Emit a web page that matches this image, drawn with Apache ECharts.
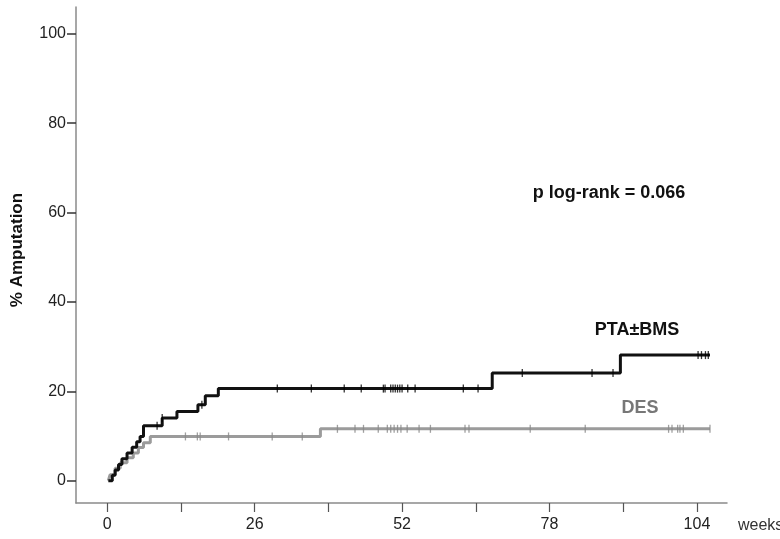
<!DOCTYPE html>
<html>
<head>
<meta charset="utf-8">
<script src="https://cdn.jsdelivr.net/npm/echarts@6/dist/echarts.min.js"></script>
<style>html,body{margin:0;padding:0;background:#fff}#c{width:780px;height:539px}</style>
</head>
<body>
<div id="c"></div>
<script>
// Kaplan-Meier cumulative amputation (%), step changes: time (weeks) -> value
const ptaTimes  = [0.2, 0.9, 1.4, 2.0, 2.6, 3.5, 4.4, 5.2, 5.8, 6.4, 9.7, 12.3, 16.0, 17.3, 19.6, 67.9, 90.5, 106.3];
const ptaValues = [0, 1.2, 2.4, 3.6, 4.9, 6.2, 7.5, 8.7, 9.9, 12.3, 14.0, 15.5, 17.0, 19.0, 20.6, 24.1, 28.1, 28.1];
const desTimes  = [0.2, 0.5, 1.4, 2.3, 3.5, 4.6, 5.5, 6.4, 7.6, 37.6, 106.3];
const desValues = [0, 1.3, 2.8, 4.0, 5.1, 6.2, 7.4, 8.5, 9.9, 11.6, 11.6];
// censored observations (weeks)
const ptaCensor = [8.8, 9.7, 16.7, 30.0, 36.0, 41.8, 44.8, 48.7, 49.0, 50.0, 50.4, 50.8, 51.2, 51.6, 52.0, 53.0, 54.3, 62.8, 65.4, 73.2, 85.5, 89.2, 104.2, 104.8, 105.5, 106.0];
const desCensor = [13.8, 15.9, 16.4, 21.4, 29.1, 34.4, 40.6, 43.7, 45.2, 47.8, 49.4, 50.0, 50.6, 51.2, 51.8, 52.9, 55.0, 57.0, 63.1, 63.8, 74.6, 84.3, 99.0, 99.6, 100.6, 101.0, 101.6, 106.3];
const xTicks = [0, 13, 26, 39, 52, 65, 78, 91, 104];
const xLabels = [0, 26, 52, 78, 104];
const yLabels = [0, 20, 40, 60, 80, 100];
const seriesNames = ['PTA±BMS', 'DES'];
const pText = 'p log-rank = 0.066';

function stepValue(times, values, t) {
  let v = values[0];
  for (let i = 0; i < times.length; i++) if (times[i] <= t) v = values[i];
  return v;
}
const zip = (a, b) => a.map((t, i) => [t, b[i]]);
const censorPts = (c, times, values) => c.map(t => [t, stepValue(times, values, t)]);

const BLACK = '#111111', GRAY = '#9b9b9b';
const chart = echarts.init(document.getElementById('c'));
chart.setOption({
  animation: false,
  backgroundColor: '#fff',
  grid: { left: 76, right: 53, top: 7, bottom: 36, outerBoundsMode: 'none', containLabel: false },
  xAxis: {
    type: 'value', min: -5.5, max: 109.3,
    name: 'weeks', nameLocation: 'end', nameGap: 11,
    nameTextStyle: { fontSize: 16, color: '#333', fontFamily: 'Liberation Sans', verticalAlign: 'top', padding: [15, 0, 0, 0] },
    splitLine: { show: false },
    axisLine: { onZero: false, lineStyle: { color: '#8a8a8a', width: 1.5 } },
    axisTick: { customValues: xTicks, length: 9, lineStyle: { color: '#555', width: 1.2 } },
    axisLabel: { customValues: xLabels, margin: 14, fontSize: 16, color: '#222', fontFamily: 'Liberation Sans' }
  },
  yAxis: {
    type: 'value', min: -5, max: 106,
    name: '% Amputation', nameLocation: 'middle', nameGap: 50,
    nameTextStyle: { fontSize: 17, fontWeight: 'bold', color: '#111', fontFamily: 'Liberation Sans', padding: [0, 0, 0, 10] },
    splitLine: { show: false },
    axisLine: { onZero: false, lineStyle: { color: '#8a8a8a', width: 1.5 } },
    axisTick: { customValues: yLabels, length: 9, lineStyle: { color: '#333', width: 1.5 } },
    axisLabel: { customValues: yLabels, margin: 10, fontSize: 16, color: '#222', fontFamily: 'Liberation Sans' }
  },
  series: [
    { name: seriesNames[1], type: 'line', step: 'end', showSymbol: false, data: zip(desTimes, desValues),
      lineStyle: { color: GRAY, width: 3 }, z: 2 },
    { name: seriesNames[1] + ' censored', type: 'scatter', data: censorPts(desCensor, desTimes, desValues),
      symbol: 'rect', symbolSize: [1.3, 8], itemStyle: { color: '#888' }, z: 3 },
    { name: seriesNames[0], type: 'line', step: 'end', showSymbol: false, data: zip(ptaTimes, ptaValues),
      lineStyle: { color: BLACK, width: 3 }, z: 4 },
    { name: seriesNames[0] + ' censored', type: 'scatter', data: censorPts(ptaCensor, ptaTimes, ptaValues),
      symbol: 'rect', symbolSize: [1.3, 8], itemStyle: { color: '#000' }, z: 5 }
  ],
  graphic: [
    { type: 'text', x: 609, y: 193, style: { text: pText, textAlign: 'center', textVerticalAlign: 'middle',
      font: 'bold 18px "Liberation Sans"', fill: '#111' } },
    { type: 'text', x: 637, y: 330, style: { text: seriesNames[0], textAlign: 'center', textVerticalAlign: 'middle',
      font: 'bold 18px "Liberation Sans"', fill: '#111' } },
    { type: 'text', x: 640, y: 408, style: { text: seriesNames[1], textAlign: 'center', textVerticalAlign: 'middle',
      font: 'bold 18px "Liberation Sans"', fill: '#777' } }
  ]
});
</script>
</body>
</html>
